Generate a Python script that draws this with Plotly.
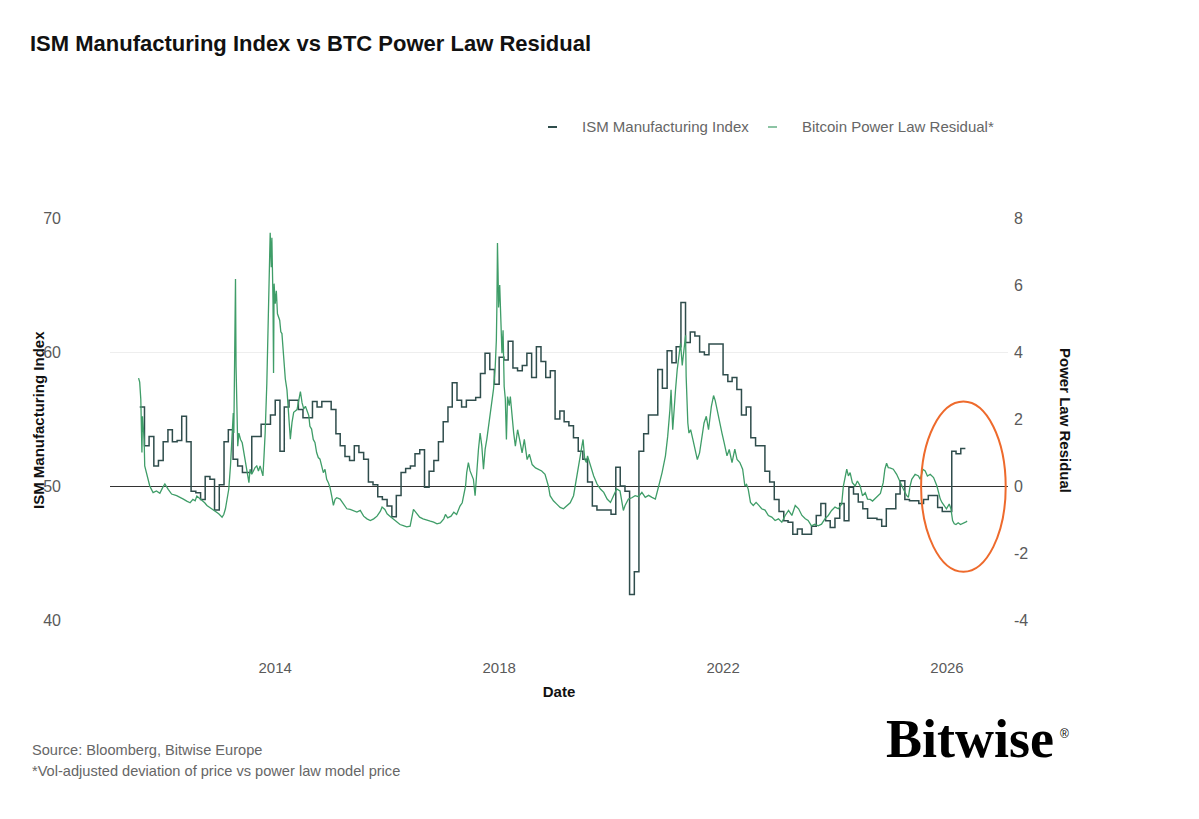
import pandas as pd
import plotly.graph_objects as go

# ---------------- data ----------------
ism_start = "2011-08-01"  # first monthly observation
ism_values = [
    55.9, 53.0, 53.7, 51.5, 51.9, 53.3, 54.2, 53.3, 53.4, 55.2, 53.3, 49.6,
    49.5, 49.0, 50.7, 50.5, 48.2, 50.1, 53.3, 54.2, 52.0, 51.5, 51.0, 51.0,
    53.7, 53.7, 54.6, 54.6, 55.3, 56.4, 52.6, 55.9, 56.4, 56.4, 55.7, 55.1,
    55.1, 56.3, 55.9, 56.3, 56.3, 55.7, 53.9, 53.0, 52.2, 51.9, 53.0, 52.5,
    52.0, 50.3, 50.1, 49.2, 49.0, 48.5, 47.7, 49.3, 51.0, 51.3, 51.5, 52.4,
    52.7, 49.9, 51.1, 51.9, 53.3, 54.8, 55.9, 57.7, 56.4, 55.9, 56.4, 56.4,
    56.6, 58.4, 59.9, 58.7, 57.6, 59.6, 59.4, 60.8, 58.8, 58.6, 59.0, 59.9,
    58.1, 60.4, 59.3, 58.1, 58.6, 55.0, 55.6, 54.8, 54.5, 53.6, 52.6, 52.0,
    50.3, 48.5, 48.2, 48.2, 48.2, 47.9, 51.4, 50.0, 49.6, 41.9, 43.6, 52.6,
    53.9, 55.3, 55.3, 58.7, 57.3, 60.1, 59.2, 60.4, 63.7, 60.7, 61.5, 61.2,
    60.0, 59.8, 60.6, 60.6, 60.6, 58.3, 57.8, 58.1, 57.2, 55.3, 55.9, 53.6,
    53.0, 53.0, 51.1, 50.3, 49.0, 48.1, 47.4, 47.3, 46.4, 46.8, 46.4, 46.4,
    47.0, 47.8, 48.7, 47.4, 46.9, 47.6, 48.7, 47.4, 49.9, 49.4, 48.8, 48.3,
    47.6, 47.6, 47.5, 47.0, 48.3, 48.3, 49.4, 50.4, 49.0, 48.9, 48.9, 48.7,
    49.0, 49.3, 49.3, 48.4, 48.1, 48.1, 52.6, 52.4, 52.8, 52.8,
]

# decimal-year dates and values of the BTC power law residual
res_years = [
    2011.56, 2011.58, 2011.60, 2011.62, 2011.63, 2011.66, 2011.67, 2011.70, 2011.73, 2011.76,
    2011.79, 2011.82, 2011.88, 2011.94, 2011.99, 2012.03, 2012.09, 2012.15, 2012.24, 2012.30,
    2012.36, 2012.42, 2012.48, 2012.53, 2012.57, 2012.60, 2012.63, 2012.69, 2012.74, 2012.78,
    2012.84, 2012.90, 2012.95, 2012.99, 2013.05, 2013.08, 2013.11, 2013.14, 2013.17, 2013.20,
    2013.23, 2013.25, 2013.26, 2013.28, 2013.29, 2013.30, 2013.32, 2013.33, 2013.35, 2013.38,
    2013.41, 2013.44, 2013.47, 2013.50, 2013.53, 2013.55, 2013.58, 2013.61, 2013.64, 2013.67,
    2013.70, 2013.73, 2013.76, 2013.78, 2013.80, 2013.82, 2013.85, 2013.88, 2013.90, 2013.91,
    2013.93, 2013.94, 2013.96, 2013.97, 2013.98, 2014.00, 2014.02, 2014.04, 2014.08, 2014.10,
    2014.12, 2014.15, 2014.18, 2014.21, 2014.24, 2014.27, 2014.30, 2014.33, 2014.39, 2014.45,
    2014.48, 2014.51, 2014.54, 2014.60, 2014.62, 2014.65, 2014.68, 2014.71, 2014.74, 2014.77,
    2014.80, 2014.83, 2014.86, 2014.89, 2014.92, 2014.95, 2014.98, 2015.01, 2015.04, 2015.07,
    2015.10, 2015.16, 2015.22, 2015.28, 2015.34, 2015.40, 2015.46, 2015.52, 2015.58, 2015.64,
    2015.70, 2015.76, 2015.82, 2015.88, 2015.91, 2015.96, 2016.00, 2016.05, 2016.11, 2016.17,
    2016.23, 2016.29, 2016.35, 2016.41, 2016.44, 2016.47, 2016.52, 2016.58, 2016.64, 2016.70,
    2016.77, 2016.83, 2016.89, 2016.95, 2017.01, 2017.04, 2017.08, 2017.14, 2017.19, 2017.24,
    2017.30, 2017.34, 2017.37, 2017.40, 2017.42, 2017.45, 2017.48, 2017.51, 2017.54, 2017.57,
    2017.60, 2017.63, 2017.66, 2017.69, 2017.72, 2017.75, 2017.78, 2017.81, 2017.84, 2017.87,
    2017.90, 2017.93, 2017.95, 2017.96, 2017.97, 2017.98, 2017.99, 2018.01, 2018.02, 2018.04,
    2018.05, 2018.07, 2018.09, 2018.11, 2018.13, 2018.15, 2018.18, 2018.20, 2018.23, 2018.26,
    2018.29, 2018.33, 2018.37, 2018.41, 2018.45, 2018.50, 2018.54, 2018.59, 2018.65, 2018.70,
    2018.76, 2018.82, 2018.85, 2018.88, 2018.91, 2018.97, 2019.03, 2019.09, 2019.15, 2019.21,
    2019.27, 2019.33, 2019.36, 2019.39, 2019.42, 2019.45, 2019.48, 2019.50, 2019.53, 2019.56,
    2019.58, 2019.63, 2019.69, 2019.75, 2019.81, 2019.87, 2019.93, 2019.99, 2020.05, 2020.10,
    2020.16, 2020.19, 2020.22, 2020.25, 2020.31, 2020.37, 2020.43, 2020.49, 2020.55, 2020.61,
    2020.67, 2020.73, 2020.79, 2020.85, 2020.91, 2020.97, 2021.01, 2021.05, 2021.07, 2021.10,
    2021.13, 2021.15, 2021.18, 2021.21, 2021.24, 2021.27, 2021.30, 2021.33, 2021.34, 2021.37,
    2021.39, 2021.42, 2021.46, 2021.50, 2021.54, 2021.58, 2021.62, 2021.66, 2021.70, 2021.74,
    2021.79, 2021.83, 2021.86, 2021.89, 2021.94, 2021.98, 2022.02, 2022.07, 2022.11, 2022.16,
    2022.21, 2022.25, 2022.30, 2022.35, 2022.39, 2022.42, 2022.45, 2022.49, 2022.54, 2022.59,
    2022.64, 2022.69, 2022.75, 2022.81, 2022.87, 2022.93, 2022.99, 2023.05, 2023.11, 2023.17,
    2023.23, 2023.29, 2023.35, 2023.41, 2023.47, 2023.52, 2023.58, 2023.64, 2023.70, 2023.76,
    2023.82, 2023.88, 2023.94, 2024.00, 2024.06, 2024.12, 2024.15, 2024.18, 2024.21, 2024.24,
    2024.27, 2024.31, 2024.36, 2024.40, 2024.45, 2024.49, 2024.54, 2024.58, 2024.63, 2024.67,
    2024.71, 2024.77, 2024.81, 2024.86, 2024.89, 2024.92, 2024.95, 2024.98, 2025.04, 2025.10,
    2025.16, 2025.22, 2025.28, 2025.31, 2025.34, 2025.37, 2025.43, 2025.49, 2025.52, 2025.57,
    2025.61, 2025.65, 2025.70, 2025.76, 2025.82, 2025.88, 2025.91, 2025.95, 2025.99, 2026.04,
    2026.07, 2026.10, 2026.13, 2026.16, 2026.20, 2026.24, 2026.29, 2026.34, 2026.36,
]
res_values = [
    3.22, 3.10, 2.58, 1.00, 2.08, 1.39, 0.60, 0.40, 0.25, 0.00,
    -0.10, -0.20, -0.15, -0.22, -0.05, 0.06, -0.10, -0.24, -0.29, -0.33,
    -0.39, -0.45, -0.50, -0.40, -0.44, -0.30, -0.34, -0.44, -0.50, -0.58,
    -0.65, -0.73, -0.78, -0.83, -0.93, -0.85, -0.68, -0.40, -0.09, 0.60,
    1.39, 2.18, 1.58, 4.55, 6.18, 3.56, 1.78, 1.19, 1.58, 1.39,
    1.29, 0.99, 0.69, 0.40, 0.10, 0.50, 0.35, 0.45, 0.55, 0.60,
    0.45, 0.60, 0.40, 0.30, 0.90, 1.58, 3.07, 5.54, 6.92, 7.56,
    6.53, 7.41, 5.54, 3.37, 6.04, 5.44, 5.83, 5.14, 4.95, 4.60,
    4.55, 3.86, 3.20, 2.87, 2.10, 1.40, 1.90, 2.20, 2.28, 2.82,
    2.48, 2.30, 2.38, 2.10, 1.78, 1.70, 1.39, 1.30, 1.00, 0.85,
    0.80, 0.55, 0.40, 0.50, 0.20, 0.10, -0.05, -0.30, -0.58, -0.40,
    -0.35, -0.39, -0.55, -0.68, -0.70, -0.75, -0.78, -0.73, -0.90, -0.98,
    -1.03, -0.98, -0.90, -0.75, -0.63, -0.70, -0.83, -0.90, -0.98, -1.05,
    -1.15, -1.18, -1.22, -1.20, -0.95, -0.70, -0.80, -0.93, -0.98, -1.02,
    -1.05, -1.08, -1.13, -1.10, -0.98, -0.85, -0.95, -0.90, -0.78, -0.85,
    -0.60, -0.50, -0.25, 0.00, 0.40, 0.70, 0.45, 0.30, 0.20, -0.29,
    0.55, 1.09, 1.58, 1.20, 0.50, 1.10, 1.40, 1.78, 2.00, 2.47,
    2.90, 3.56, 4.35, 5.40, 7.25, 6.40, 5.33, 6.00, 5.33, 4.40,
    3.96, 4.65, 2.97, 2.60, 1.39, 2.67, 2.40, 2.67, 2.08, 1.58,
    1.19, 1.68, 1.35, 0.99, 1.39, 0.79, 0.95, 0.64, 0.54, 0.50,
    0.45, 0.35, 0.20, 0.00, -0.29, -0.44, -0.54, -0.64, -0.68, -0.58,
    -0.50, -0.29, 0.00, 0.20, 0.50, 0.90, 1.20, 1.39, 0.80, 0.70,
    0.90, 0.60, 0.30, 0.06, -0.09, -0.19, -0.39, -0.49, -0.29, -0.09,
    -0.15, -0.40, -0.73, -0.58, -0.39, -0.35, -0.29, -0.32, -0.19, -0.34,
    -0.28, -0.34, -0.39, 0.00, 0.40, 0.90, 1.48, 2.28, 2.87, 1.68,
    2.50, 2.87, 3.47, 3.86, 4.26, 3.60, 4.16, 4.50, 3.27, 1.88,
    1.58, 1.68, 1.39, 1.09, 0.79, 0.99, 1.39, 1.88, 2.08, 1.68,
    2.37, 2.70, 2.55, 2.28, 1.88, 1.58, 1.29, 0.90, 1.09, 0.70,
    1.10, 0.79, 0.70, 0.50, 0.00, 0.05, -0.10, -0.49, -0.58, -0.49,
    -0.58, -0.68, -0.72, -0.88, -0.93, -1.03, -0.98, -1.08, -0.88, -0.73,
    -0.88, -0.58, -0.68, -0.88, -0.98, -1.03, -1.19, -1.14, -1.19, -1.14,
    -0.98, -0.88, -0.73, -0.63, -0.68, -0.54, 0.00, 0.30, 0.50, 0.30,
    0.40, 0.10, 0.00, 0.15, 0.00, -0.29, -0.20, -0.39, -0.40, -0.45,
    -0.39, -0.30, -0.22, 0.10, 0.50, 0.68, 0.55, 0.54, 0.50, 0.35,
    0.10, -0.09, -0.29, -0.34, 0.00, 0.20, 0.35, 0.30, 0.20, 0.50,
    0.45, 0.30, 0.35, 0.25, 0.00, -0.39, -0.49, -0.58, -0.68, -0.54,
    -0.68, -1.03, -1.13, -1.15, -1.10, -1.15, -1.12, -1.07, -1.05,
]

ism_name = "ISM Manufacturing Index"
res_name = "Bitcoin Power Law Residual*"
left_ticks = [40, 50, 60, 70]
right_ticks = [-4, -2, 0, 2, 4, 6, 8]
right_tick_text = ["-4", "-2", "0", "2", "4", "6", "8"]
x_tick_years = ["2014-01-01", "2018-01-01", "2022-01-01", "2026-01-01"]


def dec_year_to_date(y):
    base = pd.Timestamp(int(y), 1, 1)
    nxt = pd.Timestamp(int(y) + 1, 1, 1)
    return base + (nxt - base) * (y - int(y))


ism_dates = pd.date_range(ism_start, periods=len(ism_values), freq="MS")
res_dates = [dec_year_to_date(y) for y in res_years]

# ---------------- styles ----------------
ISM_COLOR = "#2f4d4c"
RES_COLOR = "#3f9d68"
GRAY = "#5a5a5a"
FONT = "Liberation Sans"

fig = go.Figure()
fig.add_trace(go.Scatter(
    x=ism_dates, y=ism_values, name=ism_name, mode="lines",
    line=dict(color=ISM_COLOR, width=1.5, shape="hv"),
    showlegend=False,
))
fig.add_trace(go.Scatter(
    x=res_dates, y=res_values, name=res_name, mode="lines",
    line=dict(color=RES_COLOR, width=1.3),
    yaxis="y2", showlegend=False,
))

# plot area in pixels: x 110..1008, y 218..620
L, R, T, B = 110, 1008, 218, 620
W, H = 1199, 819


def px(xp):
    return (xp - L) / (R - L)


def py(yp):
    return (B - yp) / (B - T)


fig.update_layout(
    width=W, height=H,
    margin=dict(l=L, r=W - R, t=T, b=H - B, pad=0),
    paper_bgcolor="white", plot_bgcolor="white",
    font=dict(family=FONT, color=GRAY),
    title=dict(
        text="<b>ISM Manufacturing Index vs BTC Power Law Residual</b>",
        font=dict(family=FONT, size=22, color="#111111"),
        x=30 / W, xanchor="left", xref="container",
        y=1 - 43 / H, yanchor="middle", yref="container",
    ),
    xaxis=dict(
        type="date",
        range=["2011-01-19", "2027-02-03"],
        tickvals=x_tick_years, tickformat="%Y",
        showgrid=False, zeroline=False, showline=False, ticks="",
        tickfont=dict(size=15, color=GRAY),
        ticklabelstandoff=37,
        title=dict(text="<b>Date</b>", font=dict(size=15, color="#111111"), standoff=11),
    ),
    yaxis=dict(
        range=[40, 70], tickvals=left_ticks,
        showgrid=True, gridcolor="#eeeeee", gridwidth=1,
        zeroline=False, showline=False, ticks="",
        tickfont=dict(size=16, color=GRAY),
        ticklabelstandoff=48,
    ),
    yaxis2=dict(
        range=[-4, 8], tickvals=right_ticks, ticktext=right_tick_text,
        overlaying="y", side="right",
        showgrid=False, zeroline=True, zerolinecolor="#333333", zerolinewidth=1,
        showline=False, ticks="",
        tickfont=dict(size=16, color=GRAY),
        ticklabelstandoff=5,
    ),
    hovermode=False,
)

annotations = [
    # axis titles
    dict(text="<b>ISM Manufacturing Index</b>", x=px(38), y=py(420), xref="paper", yref="paper",
         textangle=-90, showarrow=False, font=dict(size=15, color="#111111"),
         xanchor="center", yanchor="middle"),
    dict(text="<b>Power Law Residual</b>", x=px(1066), y=py(420), xref="paper", yref="paper",
         textangle=90, showarrow=False, font=dict(size=15, color="#111111"),
         xanchor="center", yanchor="middle"),
    # legend labels
    dict(text=ism_name, x=px(580), y=py(127), xref="paper", yref="paper", showarrow=False,
         font=dict(size=15, color="#666666"), xanchor="left", yanchor="middle"),
    dict(text=res_name, x=px(800), y=py(127), xref="paper", yref="paper", showarrow=False,
         font=dict(size=15, color="#666666"), xanchor="left", yanchor="middle"),
    # footnotes
    dict(text="Source: Bloomberg, Bitwise Europe", x=px(30), y=py(750), xref="paper", yref="paper",
         showarrow=False, font=dict(size=14.6, color="#666666"), xanchor="left", yanchor="middle"),
    dict(text="*Vol-adjusted deviation of price vs power law model price", x=px(30), y=py(771),
         xref="paper", yref="paper", showarrow=False, font=dict(size=14.6, color="#666666"),
         xanchor="left", yanchor="middle"),
    # logo
    dict(text="<b>Bitwise</b>", x=px(884), y=py(739), xref="paper", yref="paper",
         showarrow=False, font=dict(family="Liberation Serif", size=54, color="#000000"),
         xanchor="left", yanchor="middle"),
    dict(text="®", x=px(1058), y=py(734), xref="paper", yref="paper",
         showarrow=False, font=dict(family="Liberation Sans", size=12, color="#000000"),
         xanchor="left", yanchor="middle"),
]
fig.update_layout(annotations=annotations)

# legend swatches
fig.add_shape(type="line", xref="paper", yref="paper",
              x0=px(548), x1=px(557), y0=py(127), y1=py(127),
              line=dict(color=ISM_COLOR, width=2))
fig.add_shape(type="line", xref="paper", yref="paper",
              x0=px(768), x1=px(777), y0=py(127), y1=py(127),
              line=dict(color="#8cc4a4", width=2))

# highlight ellipse around the latest readings
fig.add_shape(type="circle", xref="x", yref="y",
              x0="2025-07-16", x1="2027-01-19", y0=43.6, y1=56.3,
              line=dict(color="#ee6a2c", width=2))

fig.write_html("out.html")
